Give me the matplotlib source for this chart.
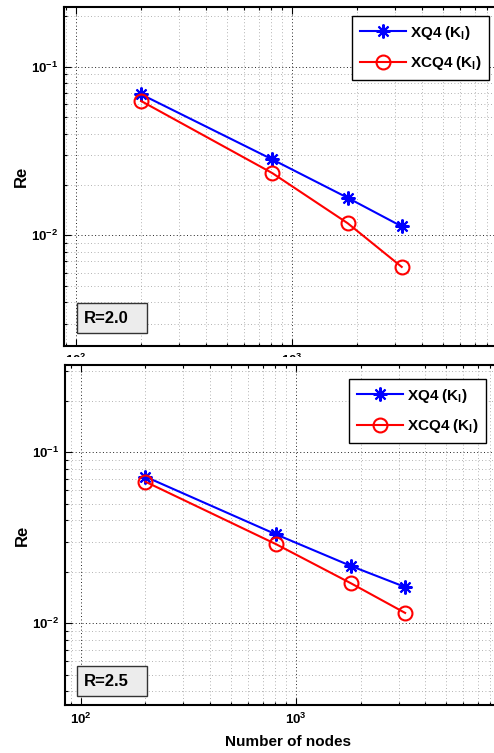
import matplotlib
matplotlib.use("Agg")
import matplotlib.pyplot as plt
from matplotlib.patches import Rectangle
from matplotlib.ticker import NullFormatter, LogLocator

plt.rcParams['font.family'] = ['Liberation Sans', 'DejaVu Sans']
plt.rcParams['font.weight'] = 'bold'
plt.rcParams['mathtext.fontset'] = 'custom'
plt.rcParams['mathtext.rm'] = 'Liberation Sans:bold'
plt.rcParams['mathtext.it'] = 'Liberation Sans:bold:italic'
plt.rcParams['mathtext.bf'] = 'Liberation Sans:bold'

# numero di nodi e errori relativi
nodes = [200, 810, 1810, 3220]
xq4_r20 = [0.0686, 0.0282, 0.0167, 0.0113]
xcq4_r20 = [0.0626, 0.0234, 0.0118, 0.0065]
xq4_r25 = [0.0720, 0.0331, 0.0216, 0.0163]
xcq4_r25 = [0.0673, 0.0290, 0.0171, 0.0115]

labels = ['XQ4 (K$_\\mathrm{I}$)', 'XCQ4 (K$_\\mathrm{I}$)']
panel_names = ['R=2.0', 'R=2.5']

W, H = 494, 753
fig = plt.figure(figsize=(W / 100, H / 100), dpi=100)


def px_box(left, top, right, bottom):
    return [left / W, 1 - bottom / H, (right - left) / W, (bottom - top) / H]


def setup(ax, xlim, ylim):
    ax.set_xscale('log')
    ax.set_yscale('log')
    ax.set_xlim(*xlim)
    ax.set_ylim(*ylim)
    ax.set_xticks([1e2, 1e3])
    ax.set_xticklabels(['$10^{2}$', '$10^{3}$'])
    ax.set_yticks([1e-2, 1e-1])
    ax.set_yticklabels(['$10^{-2}$', '$10^{-1}$'])
    ax.xaxis.set_minor_locator(LogLocator(subs=range(2, 10)))
    ax.yaxis.set_minor_locator(LogLocator(subs=range(2, 10)))
    ax.xaxis.set_minor_formatter(NullFormatter())
    ax.yaxis.set_minor_formatter(NullFormatter())
    ax.tick_params(which='both', direction='in', top=True, right=True,
                   labelsize=9.5, width=0.8)
    ax.tick_params(which='major', length=5)
    ax.tick_params(which='minor', length=2.5)
    ax.tick_params(axis='y', pad=4)
    ax.tick_params(axis='x', pad=5)
    ax.grid(True, which='major', color='#222222', linestyle=(0, (1, 2.5)), linewidth=0.7)
    ax.grid(True, which='minor', color='#999999', linestyle=(0, (1, 3)), linewidth=0.6)
    for s in ax.spines.values():
        s.set_linewidth(1.5)
    ax.set_ylabel('Re', fontsize=12, fontweight='bold', labelpad=2)


def draw(ax, y1, y2, leg_anchor, box_top, name):
    ax.plot(nodes, y1, color='blue', lw=1.5, marker=(8, 2, 0), ms=10, mew=1.5,
            label=labels[0])
    ax.plot(nodes, y2, color='red', lw=1.5, marker='o', ms=10, mew=1.5,
            mfc='none', label=labels[1])
    leg = ax.legend(loc='upper right', bbox_to_anchor=leg_anchor,
                    bbox_transform=fig.transFigure, borderaxespad=0,
                    fancybox=False, edgecolor='black', framealpha=1,
                    prop={'size': 11, 'weight': 'bold'}, handlelength=3.0,
                    handletextpad=0.25, borderpad=0.5, labelspacing=0.8)
    leg.get_frame().set_linewidth(1.0)
    rect = Rectangle((77 / W, 1 - (box_top + 30) / H), 70 / W, 30 / H,
                     transform=fig.transFigure, facecolor='#ececec',
                     edgecolor='#333333', lw=1.0, zorder=5)
    fig.patches.append(rect)
    fig.text(84 / W, 1 - (box_top + 15) / H, name, fontsize=12, fontweight='bold',
             va='center', ha='left', zorder=6)


ax1 = fig.add_axes(px_box(64, 7, 508, 346))
setup(ax1, (10 ** 1.944, 1e4), (10 ** -2.656, 10 ** -0.646))
draw(ax1, xq4_r20, xcq4_r20, (489 / W, 1 - 16 / H), 303, panel_names[0])

# il pannello inferiore copre le etichette dell'asse x di quello superiore
cover = Rectangle((0, 0), 1, 1 - 357 / H, transform=fig.transFigure,
                  facecolor='white', edgecolor='none', zorder=1)
fig.patches.append(cover)

ax2 = fig.add_axes(px_box(65, 365, 511, 705))
ax2.set_zorder(2)
setup(ax2, (10 ** 1.927, 1e4), (10 ** -2.478, 10 ** -0.489))
draw(ax2, xq4_r25, xcq4_r25, (486 / W, 1 - 379 / H), 666, panel_names[1])
ax2.set_xlabel('Number of nodes', fontsize=11, fontweight='bold', labelpad=6)

fig.savefig('out.png', dpi=100)
